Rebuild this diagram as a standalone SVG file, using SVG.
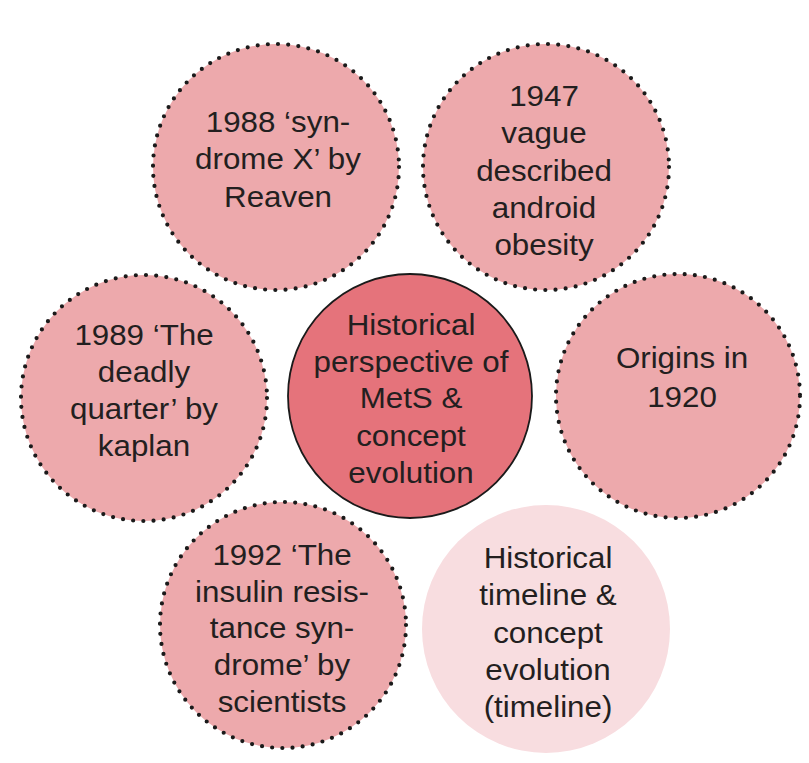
<svg xmlns="http://www.w3.org/2000/svg" width="809" height="763" viewBox="0 0 809 763">
<style>
.dot{fill:#EDA9AC;stroke:#1a1a1a;stroke-width:4.2;stroke-dasharray:0 10.2;stroke-linecap:round}
.core{fill:#E5737B;stroke:#1a1a1a;stroke-width:1.8}
.soft{fill:#F8DDE0;stroke:none}
text{font-family:"Liberation Sans",Arial,sans-serif;font-size:29px;fill:#231f20;text-anchor:middle}
</style>
<rect width="809" height="763" fill="#ffffff"/>
<g id="connectors"></g>
<g id="n1988">
<circle class="dot" cx="276" cy="167" r="123"/>
<text transform="translate(278 0) scale(1.08 1)"><tspan x="0" y="132">1988 ‘syn-</tspan><tspan x="0" y="169">drome X’ by</tspan><tspan x="0" y="207">Reaven</tspan></text>
</g>
<g id="n1947">
<circle class="dot" cx="546" cy="167" r="123"/>
<text transform="translate(544 0) scale(1.08 1)"><tspan x="0" y="106">1947</tspan><tspan x="0" y="143">vague</tspan><tspan x="0" y="181">described</tspan><tspan x="0" y="218">android</tspan><tspan x="0" y="255">obesity</tspan></text>
</g>
<g id="n1989">
<circle class="dot" cx="144" cy="398" r="123"/>
<text transform="translate(144 0) scale(1.08 1)"><tspan x="0" y="345">1989 ‘The</tspan><tspan x="0" y="382">deadly</tspan><tspan x="0" y="419">quarter’ by</tspan><tspan x="0" y="456">kaplan</tspan></text>
</g>
<g id="norigins">
<circle class="dot" cx="678" cy="396" r="122"/>
<text transform="translate(682 0) scale(1.08 1)"><tspan x="0" y="368">Origins in</tspan><tspan x="0" y="407">1920</tspan></text>
</g>
<g id="n1992">
<circle class="dot" cx="283" cy="625" r="123"/>
<text transform="translate(282 0) scale(1.08 1)"><tspan x="0" y="565">1992 ‘The</tspan><tspan x="0" y="602">insulin resis-</tspan><tspan x="0" y="638">tance syn-</tspan><tspan x="0" y="675">drome’ by</tspan><tspan x="0" y="712">scientists</tspan></text>
</g>
<g id="ntimeline">
<circle class="soft" cx="546" cy="629" r="124"/>
<text transform="translate(548 0) scale(1.08 1)"><tspan x="0" y="568">Historical</tspan><tspan x="0" y="605">timeline &amp;</tspan><tspan x="0" y="643">concept</tspan><tspan x="0" y="680">evolution</tspan><tspan x="0" y="717">(timeline)</tspan></text>
</g>
<g id="ncenter">
<circle class="core" cx="410" cy="396" r="122"/>
<text transform="translate(411 0) scale(1.08 1)"><tspan x="0" y="335">Historical</tspan><tspan x="0" y="372">perspective of</tspan><tspan x="0" y="408">MetS &amp;</tspan><tspan x="0" y="446">concept</tspan><tspan x="0" y="483">evolution</tspan></text>
</g>
</svg>
